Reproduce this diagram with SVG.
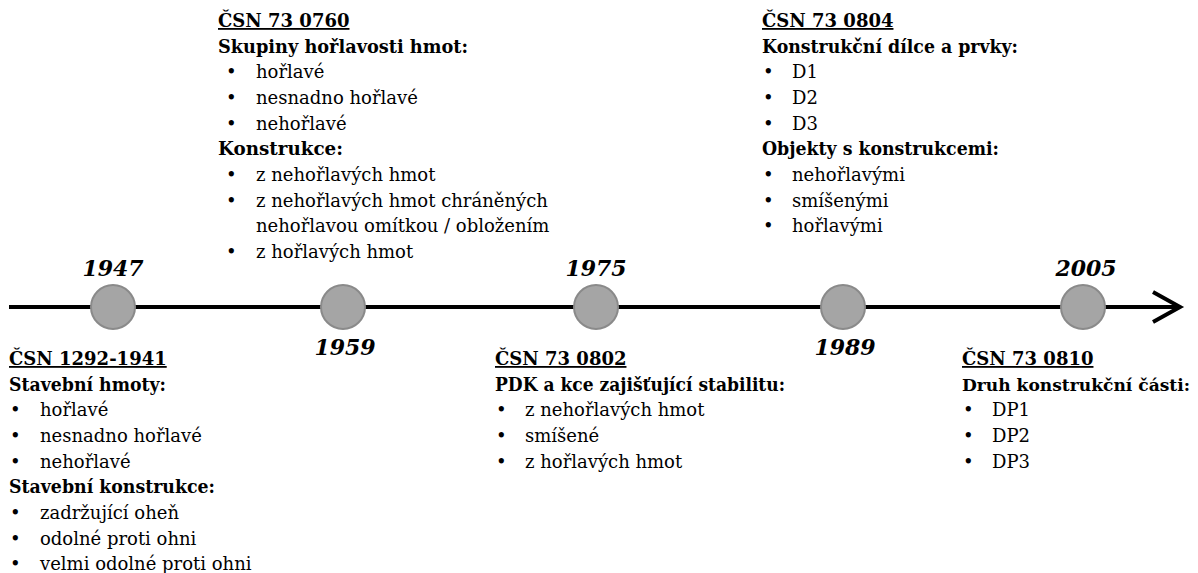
<svg xmlns="http://www.w3.org/2000/svg" width="1198" height="573" viewBox="0 0 1198 573">
<style>
text{font-family:"DejaVu Serif","Liberation Serif",serif;fill:#000;font-size:18px}
.h{font-weight:bold;text-decoration:underline}
.b{font-weight:bold;font-size:18.5px}
.y{font-weight:bold;font-style:italic;font-size:22px}
.node circle{fill:#a5a5a5;stroke:#8a8a8a;stroke-width:2}
</style>
<rect width="1198" height="573" fill="#fff"/>
<g id="connectors">
<line x1="9" y1="307" x2="1178" y2="307" stroke="#000" stroke-width="4"/>
<polyline points="1153,292 1180,307 1153,322" fill="none" stroke="#000" stroke-width="4"/>
</g>
<g id="n1947" class="node"><circle cx="113" cy="307" r="22"/><text class="y" x="113" y="276" text-anchor="middle">1947</text></g>
<g id="n1959" class="node"><circle cx="343" cy="307" r="22"/><text class="y" x="345" y="355" text-anchor="middle">1959</text></g>
<g id="n1975" class="node"><circle cx="596" cy="307" r="22"/><text class="y" x="596" y="276" text-anchor="middle">1975</text></g>
<g id="n1989" class="node"><circle cx="843" cy="307" r="22"/><text class="y" x="845" y="355" text-anchor="middle">1989</text></g>
<g id="n2005" class="node"><circle cx="1083" cy="307" r="22"/><text class="y" x="1086" y="276" text-anchor="middle">2005</text></g>
<g id="t1947">
<text class="h" x="9" y="365">ČSN 1292-1941</text>
<text class="b" x="9" y="391" textLength="157" lengthAdjust="spacingAndGlyphs">Stavební hmoty:</text>
<text x="10" y="416">•</text><text x="40" y="416">hořlavé</text>
<text x="10" y="442">•</text><text x="40" y="442">nesnadno hořlavé</text>
<text x="10" y="468">•</text><text x="40" y="468">nehořlavé</text>
<text class="b" x="9" y="493" textLength="206" lengthAdjust="spacingAndGlyphs">Stavební konstrukce:</text>
<text x="10" y="519">•</text><text x="40" y="519">zadržující oheň</text>
<text x="10" y="545">•</text><text x="40" y="545">odolné proti ohni</text>
<text x="10" y="570">•</text><text x="40" y="570">velmi odolné proti ohni</text>
</g>
<g id="t1959">
<text class="h" x="218" y="27">ČSN 73 0760</text>
<text class="b" x="218" y="53" textLength="250" lengthAdjust="spacingAndGlyphs">Skupiny hořlavosti hmot:</text>
<text x="226" y="78">•</text><text x="256" y="78">hořlavé</text>
<text x="226" y="104">•</text><text x="256" y="104">nesnadno hořlavé</text>
<text x="226" y="130">•</text><text x="256" y="130">nehořlavé</text>
<text class="b" x="218" y="155" textLength="125" lengthAdjust="spacingAndGlyphs">Konstrukce:</text>
<text x="226" y="181">•</text><text x="256" y="181">z nehořlavých hmot</text>
<text x="226" y="207">•</text><text x="256" y="207">z nehořlavých hmot chráněných</text>
<text x="256" y="232">nehořlavou omítkou / obložením</text>
<text x="226" y="258">•</text><text x="256" y="258">z hořlavých hmot</text>
</g>
<g id="t1975">
<text class="h" x="495" y="365">ČSN 73 0802</text>
<text class="b" x="495" y="391" textLength="290" lengthAdjust="spacingAndGlyphs">PDK a kce zajišťující stabilitu:</text>
<text x="496" y="416">•</text><text x="525" y="416">z nehořlavých hmot</text>
<text x="496" y="442">•</text><text x="525" y="442">smíšené</text>
<text x="496" y="468">•</text><text x="525" y="468">z hořlavých hmot</text>
</g>
<g id="t1989">
<text class="h" x="762" y="27">ČSN 73 0804</text>
<text class="b" x="762" y="53" textLength="256" lengthAdjust="spacingAndGlyphs">Konstrukční dílce a prvky:</text>
<text x="763" y="78">•</text><text x="792" y="78">D1</text>
<text x="763" y="104">•</text><text x="792" y="104">D2</text>
<text x="763" y="130">•</text><text x="792" y="130">D3</text>
<text class="b" x="762" y="155" textLength="237" lengthAdjust="spacingAndGlyphs">Objekty s konstrukcemi:</text>
<text x="763" y="181">•</text><text x="792" y="181">nehořlavými</text>
<text x="763" y="207">•</text><text x="792" y="207">smíšenými</text>
<text x="763" y="232">•</text><text x="792" y="232">hořlavými</text>
</g>
<g id="t2005">
<text class="h" x="962" y="365">ČSN 73 0810</text>
<text class="b" x="962" y="391" style="font-size:17px" textLength="228" lengthAdjust="spacingAndGlyphs">Druh konstrukční části:</text>
<text x="963" y="416">•</text><text x="992" y="416">DP1</text>
<text x="963" y="442">•</text><text x="992" y="442">DP2</text>
<text x="963" y="468">•</text><text x="992" y="468">DP3</text>
</g>
</svg>
